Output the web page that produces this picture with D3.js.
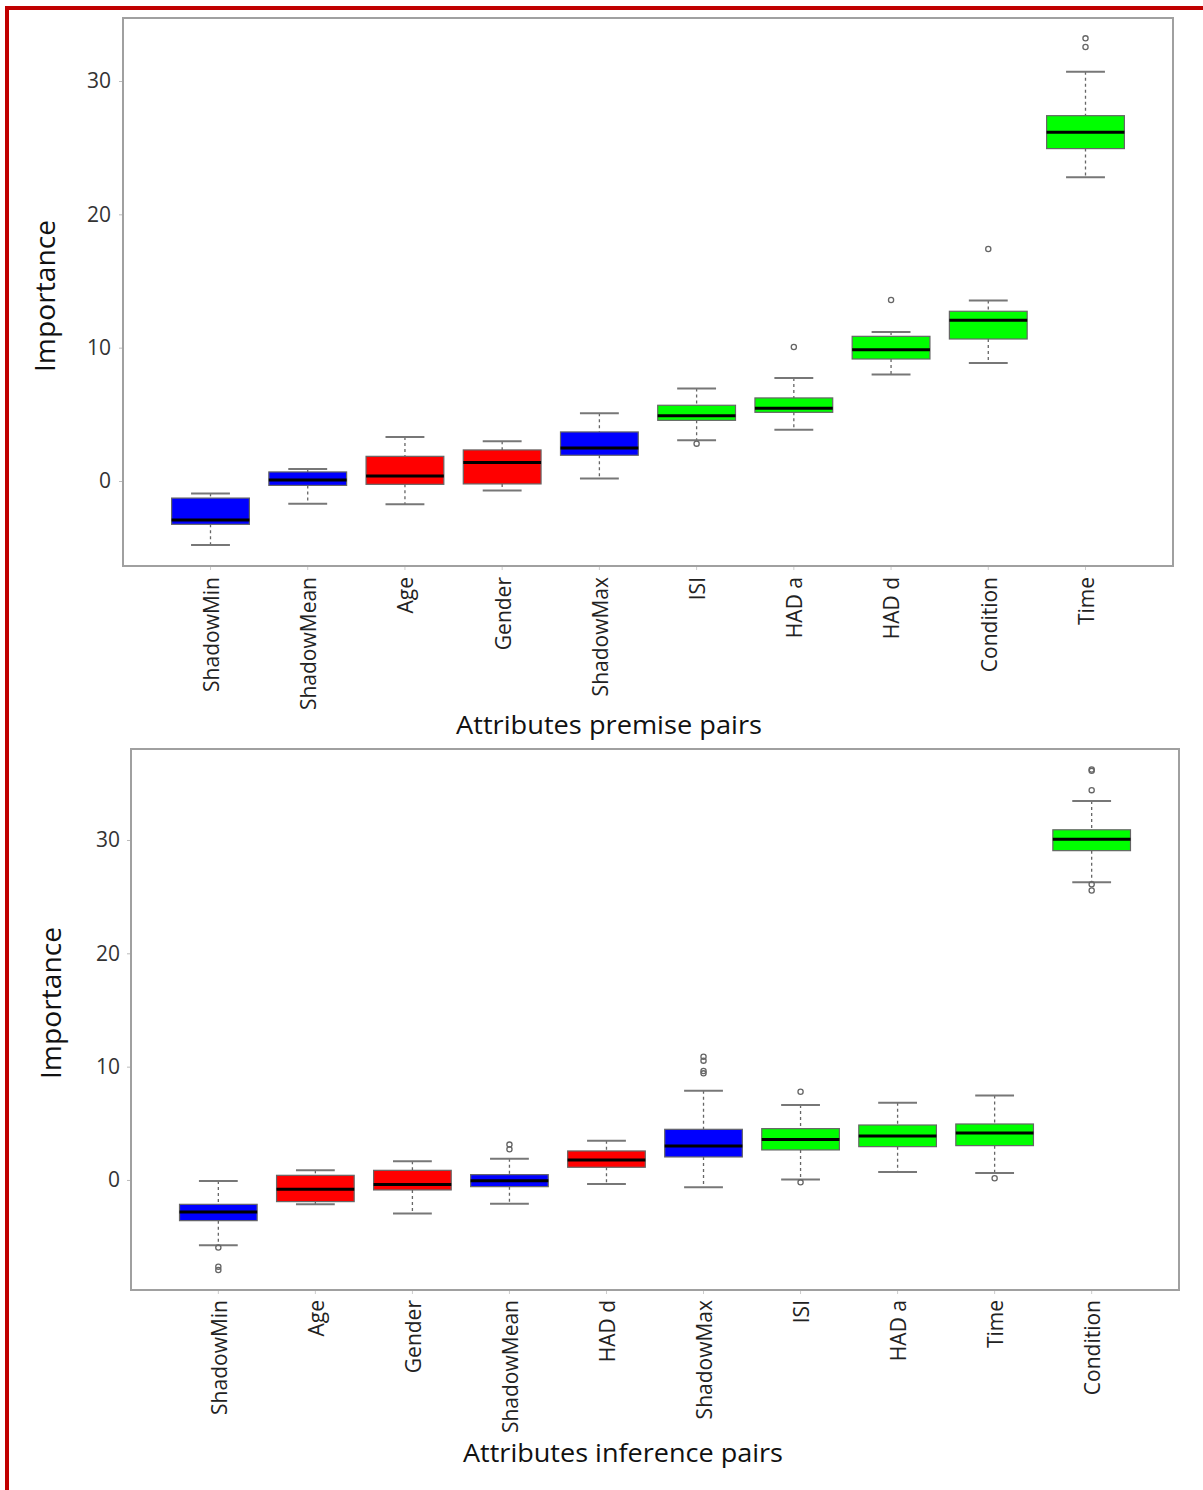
<!DOCTYPE html>
<html>
<head>
<meta charset="utf-8">
<script src="https://cdn.jsdelivr.net/npm/d3@7"></script>
<style>
  html, body { margin: 0; padding: 0; background: #fff; }
  svg { display: block; }
  text { font-family: "Open Sans", "DejaVu Sans", sans-serif; }
</style>
</head>
<body>
<svg id="chart" width="1203" height="1490"></svg>
<script>
// ---- Premise pairs: Boruta importance per attribute ----
const premiseNames  = ["ShadowMin", "ShadowMean", "Age", "Gender", "ShadowMax", "ISI", "HAD a", "HAD d", "Condition", "Time"];
const premiseGroup  = ["shadow", "shadow", "rejected", "rejected", "shadow", "confirmed", "confirmed", "confirmed", "confirmed", "confirmed"];
const premiseLow    = [-4.8, -1.7, -1.75, -0.72, 0.18, 3.05, 3.85, 7.98, 8.85, 22.78];
const premiseQ1     = [-3.25, -0.33, -0.25, -0.22, 1.93, 4.55, 5.15, 9.15, 10.65, 24.93];
const premiseMedian = [-2.93, 0.08, 0.38, 1.38, 2.48, 4.9, 5.45, 9.85, 12.05, 26.15];
const premiseQ3     = [-1.28, 0.68, 1.85, 2.33, 3.68, 5.68, 6.23, 10.85, 12.73, 27.4];
const premiseHigh   = [-0.93, 0.9, 3.3, 2.98, 5.08, 6.93, 7.73, 11.18, 13.53, 30.7];
const premiseOut    = [[], [], [], [], [], [2.8], [10.05], [13.58], [17.4], [32.55, 33.2]];

// ---- Inference pairs ----
const inferenceNames  = ["ShadowMin", "Age", "Gender", "ShadowMean", "HAD d", "ShadowMax", "ISI", "HAD a", "Time", "Condition"];
const inferenceGroup  = ["shadow", "rejected", "rejected", "shadow", "rejected", "shadow", "confirmed", "confirmed", "confirmed", "confirmed"];
const inferenceLow    = [-5.77, -2.15, -2.97, -2.09, -0.35, -0.65, 0.03, 0.71, 0.62, 26.27];
const inferenceQ1     = [-3.59, -1.91, -0.88, -0.59, 1.12, 2.03, 2.65, 2.94, 3.03, 29.06];
const inferenceMedian = [-2.82, -0.82, -0.41, -0.06, 1.76, 3.0, 3.56, 3.88, 4.15, 30.06];
const inferenceQ3     = [-2.15, 0.41, 0.85, 0.47, 2.56, 4.47, 4.53, 4.85, 4.94, 30.9];
const inferenceHigh   = [-0.09, 0.85, 1.65, 1.88, 3.47, 7.88, 6.62, 6.82, 7.46, 33.44];
const inferenceOut    = [[-5.97, -7.65, -7.95], [], [], [2.7, 3.12], [], [9.41, 9.62, 10.53, 10.88], [7.79, -0.21], [], [0.15], [36.1, 36.22, 34.4, 26.1, 25.55]];

// Y axis tick values shared by both panels
const yTicks = [0, 10, 20, 30];

const groupColor = d3.scaleOrdinal()
  .domain(["shadow", "rejected", "confirmed"])
  .range(["#0000ff", "#ff0000", "#00ff00"]);

const svg = d3.select("#chart");

// Frame around the figure (top and left rules)
svg.append("rect").attr("x", 5).attr("y", 6).attr("width", 1198).attr("height", 4).attr("fill", "#c00000");
svg.append("rect").attr("x", 5).attr("y", 6).attr("width", 4).attr("height", 1484).attr("fill", "#c00000");

function buildRows(names, group, low, q1, med, q3, high, out) {
  return names.map((n, i) => ({
    name: n, group: group[i], low: low[i], q1: q1[i], med: med[i],
    q3: q3[i], high: high[i], out: out[i]
  }));
}

function drawPanel(cfg) {
  const { rows, left, right, top, bottom, yDomain, xTitle, xTitleY, xTitleX, xTitleLen,
          yTitleX, yTitleY, tickLabelX, labelGap } = cfg;

  const x = d3.scaleBand()
    .domain(rows.map(d => d.name))
    .range([left, right])
    .paddingInner(0)
    .paddingOuter(0.4);
  const y = d3.scaleLinear().domain(yDomain).range([bottom, top]);

  const g = svg.append("g");
  const step = x.bandwidth();
  const boxW = step * 0.8;
  const capW = step * 0.4;
  const cx = d => x(d.name) + step / 2;

  // Y axis tick labels
  const yAxis = d3.axisLeft(y).tickValues(yTicks).tickSize(4).tickPadding(tickLabelX);
  const ya = g.append("g").attr("transform", `translate(${left},0)`).call(yAxis);
  ya.select(".domain").remove();
  ya.selectAll(".tick line").attr("stroke", "#bbb");
  ya.selectAll(".tick text")
    .attr("fill", "#333")
    .style("font-size", "21px")
    .style("font-family", "'Open Sans', sans-serif");

  // X axis category labels (vertical)
  const xAxis = d3.axisBottom(x).tickSize(4).tickPadding(0);
  const xa = g.append("g").attr("transform", `translate(0,${bottom})`).call(xAxis);
  xa.select(".domain").remove();
  xa.selectAll(".tick line").attr("stroke", "#ccc");
  xa.selectAll(".tick text")
    .attr("transform", "rotate(-90)")
    .attr("text-anchor", "end")
    .attr("x", -labelGap)
    .attr("y", 0)
    .attr("dy", "0.4em")
    .attr("fill", "#222")
    .style("font-size", "21px")
    .style("font-family", "'Open Sans', sans-serif");

  const box = g.selectAll("g.box").data(rows).join("g").attr("class", "box");

  // Whiskers (dashed)
  box.append("line")
    .attr("x1", cx).attr("x2", cx)
    .attr("y1", d => y(d.high)).attr("y2", d => y(d.q3))
    .attr("stroke", "#666").attr("stroke-width", 1.3).attr("stroke-dasharray", "3,3");
  box.append("line")
    .attr("x1", cx).attr("x2", cx)
    .attr("y1", d => y(d.q1)).attr("y2", d => y(d.low))
    .attr("stroke", "#666").attr("stroke-width", 1.3).attr("stroke-dasharray", "3,3");

  // Whisker caps
  box.append("line")
    .attr("x1", d => cx(d) - capW / 2).attr("x2", d => cx(d) + capW / 2)
    .attr("y1", d => y(d.high)).attr("y2", d => y(d.high))
    .attr("stroke", "#777").attr("stroke-width", 2);
  box.append("line")
    .attr("x1", d => cx(d) - capW / 2).attr("x2", d => cx(d) + capW / 2)
    .attr("y1", d => y(d.low)).attr("y2", d => y(d.low))
    .attr("stroke", "#777").attr("stroke-width", 2);

  // Boxes
  box.append("rect")
    .attr("x", d => cx(d) - boxW / 2)
    .attr("width", boxW)
    .attr("y", d => y(d.q3))
    .attr("height", d => y(d.q1) - y(d.q3))
    .attr("fill", d => groupColor(d.group))
    .attr("stroke", "#666").attr("stroke-width", 1.2);

  // Medians
  box.append("line")
    .attr("x1", d => cx(d) - boxW / 2).attr("x2", d => cx(d) + boxW / 2)
    .attr("y1", d => y(d.med)).attr("y2", d => y(d.med))
    .attr("stroke", "#000").attr("stroke-width", 3);

  // Outliers
  box.selectAll("circle")
    .data(d => d.out.map(v => ({ v, c: cx(d) })))
    .join("circle")
    .attr("cx", o => o.c).attr("cy", o => y(o.v)).attr("r", 2.6)
    .attr("fill", "none").attr("stroke", "#666").attr("stroke-width", 1.3);

  // Plot frame
  g.append("rect")
    .attr("x", left).attr("y", top)
    .attr("width", right - left).attr("height", bottom - top)
    .attr("fill", "none").attr("stroke", "#a0a0a0").attr("stroke-width", 2);

  // Axis titles
  g.append("text")
    .attr("transform", `translate(${yTitleX},${yTitleY}) rotate(-90)`)
    .attr("text-anchor", "middle")
    .attr("fill", "#111")
    .attr("textLength", 152).attr("lengthAdjust", "spacingAndGlyphs")
    .style("font-size", "27px")
    .text("Importance");
  g.append("text")
    .attr("x", xTitleX).attr("y", xTitleY)
    .attr("text-anchor", "middle")
    .attr("fill", "#111")
    .attr("textLength", xTitleLen).attr("lengthAdjust", "spacingAndGlyphs")
    .style("font-size", "26px")
    .text(xTitle);
}

drawPanel({
  rows: buildRows(premiseNames, premiseGroup, premiseLow, premiseQ1, premiseMedian, premiseQ3, premiseHigh, premiseOut),
  left: 123, right: 1173, top: 18, bottom: 566,
  yDomain: [-6.375, 34.725],
  xTitle: "Attributes premise pairs", xTitleX: 609, xTitleY: 734, xTitleLen: 306,
  yTitleX: 55, yTitleY: 296, tickLabelX: 8, labelGap: 11
});

drawPanel({
  rows: buildRows(inferenceNames, inferenceGroup, inferenceLow, inferenceQ1, inferenceMedian, inferenceQ3, inferenceHigh, inferenceOut),
  left: 131, right: 1179, top: 749, bottom: 1290,
  yDomain: [-9.71, 38.03],
  xTitle: "Attributes inference pairs", xTitleX: 623, xTitleY: 1462, xTitleLen: 320,
  yTitleX: 61, yTitleY: 1003, tickLabelX: 7, labelGap: 10
});
</script>
</body>
</html>
